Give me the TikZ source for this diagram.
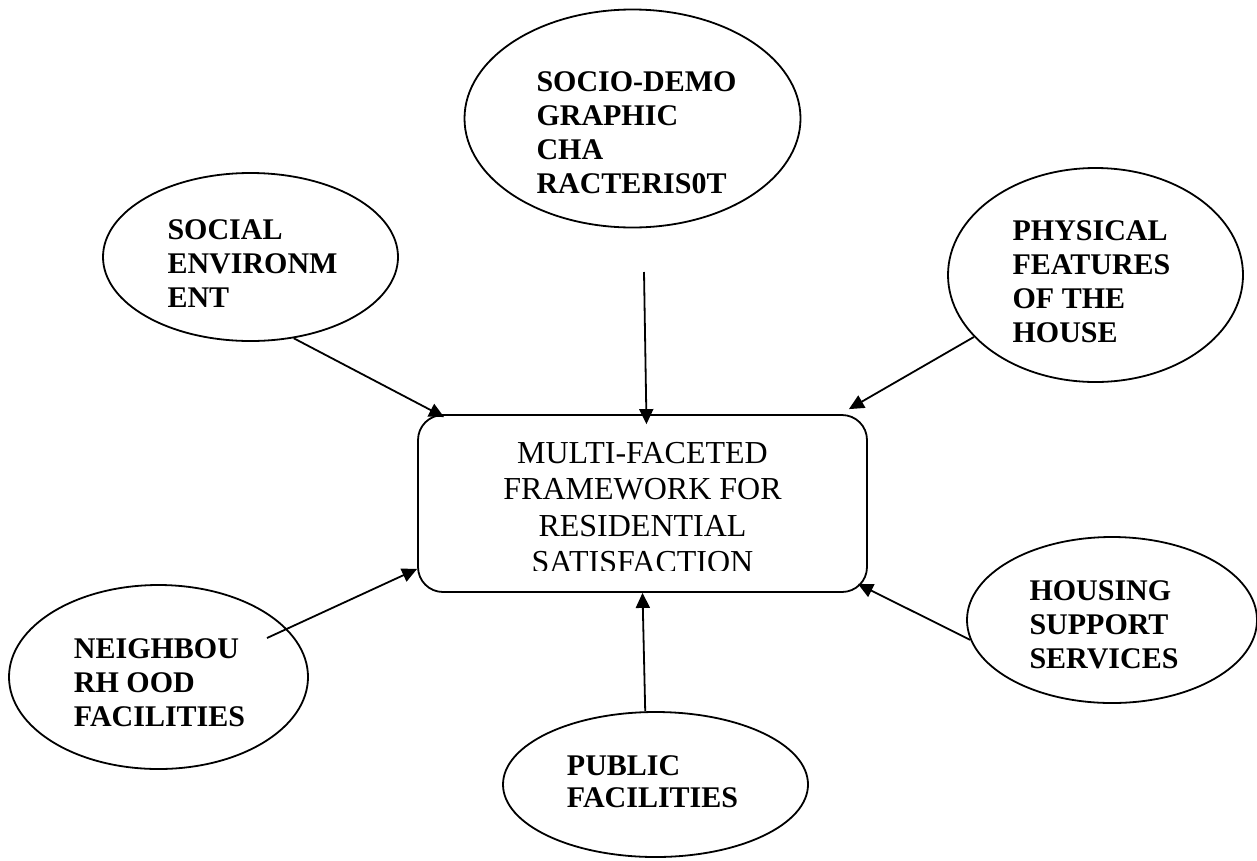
\documentclass[tikz,border=0pt]{standalone}
\usepackage{fontspec}
\setmainfont{Liberation Serif}
\usetikzlibrary{arrows.meta}
\usetikzlibrary{calc}
\usetikzlibrary{shapes.geometric}

\begin{document}
\begin{tikzpicture}[x=1pt, y=-1pt,
    factor/.style={draw, ellipse, line width=1.8pt, inner sep=0pt},
    factortext/.style={inner sep=0pt, align=left, font=\fontsize{30}{34}\selectfont\bfseries},
    feed/.style={line width=1.8pt, -{Triangle[length=15pt, width=14pt]}}]
    \useasboundingbox (0, 0) rectangle (1257, 860);

    \node [draw, rounded corners=25pt, line width=1.8pt, minimum width=449pt, minimum height=177pt] (frame) at (642.5, 503.5) {};
    \begin{scope}
      \clip (frame.north west) rectangle ([yshift=22pt]frame.south east);
      \node [align=center, inner sep=0pt, font=\fontsize{32}{36.5}\selectfont] (title) at (642.5, 507.5) {MULTI-FACETED\\FRAMEWORK FOR\\RESIDENTIAL\\SATISFACTION};
    \end{scope}

    \node [factor, minimum width=336pt, minimum height=218pt] (socio) at (632.5, 118.5) {};
    \node [factortext] (sociotext) at ($(socio) + (4, 14)$) {SOCIO-DEMO\\GRAPHIC\\CHA\\RACTERIS0T};
    \node [factor, minimum width=295pt, minimum height=168pt] (social) at (250.5, 257) {};
    \node [factortext] (socialtext) at ($(social) + (2, 7)$) {SOCIAL\\ENVIRONM\\ENT};
    \node [factor, minimum width=295pt, minimum height=214pt] (physical) at (1095.5, 275) {};
    \node [factortext] (physicaltext) at ($(physical) + (-4, 7)$) {PHYSICAL\\FEATURES\\OF THE\\HOUSE};
    \node [factor, minimum width=290pt, minimum height=166pt] (housing) at (1112, 620) {};
    \node [factortext] (housingtext) at ($(housing) + (-8, 5)$) {HOUSING\\SUPPORT\\SERVICES};
    \node [factor, minimum width=299pt, minimum height=184pt] (neigh) at (158.5, 677) {};
    \node [factortext] (neightext) at ($(neigh) + (1, 6)$) {NEIGHBOU\\RH OOD\\FACILITIES};
    \node [factor, minimum width=305pt, minimum height=145pt] (public) at (655.5, 784.5) {};
    \node [factortext, font=\fontsize{30}{32}\selectfont\bfseries] (publictext) at ($(public) + (-3, -3)$) {PUBLIC\\FACILITIES};

    \coordinate (demotail) at (644, 272);
    \coordinate (neightail) at (267, 638);

    \draw [feed] (social.-62) -- ($(frame.north west) + (27, 3)$);
    \draw [feed] (demotail) -- ($(frame.north) + (4, 10)$);
    \draw [feed] (physical.207) -- ($(frame.north east) + (-19, -5)$);
    \draw [feed] (housing.188) -- ($(frame.south east) + (-10, -9)$);
    \draw [feed] (public.98) -- (frame.south);
    \draw [feed] (neightail) -- ($(frame.south west) + (0, -24)$);
\end{tikzpicture}
\end{document}
